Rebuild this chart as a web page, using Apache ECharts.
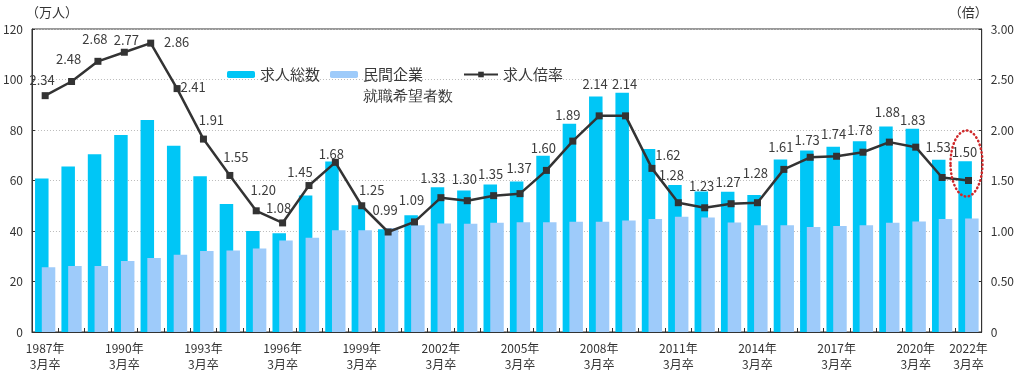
<!DOCTYPE html>
<html>
<head>
<meta charset="utf-8">
<script src="https://cdn.jsdelivr.net/npm/echarts@6/dist/echarts.min.js"></script>
<style>
    html, body { margin: 0; padding: 0; background: #fff; }
    #chart { width: 1017px; height: 376px; }
</style>
</head>
<body>
<div id="chart"></div>
<script>
    // 年度（3月卒）
    var years = ['1987', '1988', '1989', '1990', '1991', '1992', '1993', '1994', '1995', '1996',
        '1997', '1998', '1999', '2000', '2001', '2002', '2003', '2004', '2005', '2006',
        '2007', '2008', '2009', '2010', '2011', '2012', '2013', '2014', '2015', '2016',
        '2017', '2018', '2019', '2020', '2021', '2022']
    // 求人総数（万人）
    var jobs = [60.8, 65.5, 70.4, 78.0, 84.0, 73.8, 61.7, 50.7, 40.0, 39.1,
        54.1, 67.5, 50.2, 40.7, 46.2, 57.3, 56.0, 58.4, 59.6, 69.8,
        82.5, 93.3, 94.8, 72.5, 58.2, 55.6, 55.5, 54.3, 68.3, 71.9,
        73.4, 75.5, 81.4, 80.5, 68.2, 67.6]
    // 民間企業就職希望者数（万人）
    var seekers = [25.6, 26.1, 26.1, 28.1, 29.3, 30.6, 32.1, 32.3, 33.1, 36.2,
        37.3, 40.3, 40.3, 41.2, 42.3, 43.0, 42.9, 43.3, 43.5, 43.5,
        43.7, 43.7, 44.2, 44.8, 45.6, 45.3, 43.4, 42.3, 42.3, 41.6,
        42.0, 42.3, 43.3, 43.8, 44.8, 45.0]
    // 求人倍率（倍）
    var ratio = [2.34, 2.48, 2.68, 2.77, 2.86, 2.41, 1.91, 1.55, 1.20, 1.08,
        1.45, 1.68, 1.25, 0.99, 1.09, 1.33, 1.30, 1.35, 1.37, 1.60,
        1.89, 2.14, 2.14, 1.62, 1.28, 1.23, 1.27, 1.28, 1.61, 1.73,
        1.74, 1.78, 1.88, 1.83, 1.53, 1.50]
    // 目盛り
    var leftTicks = [0, 20, 40, 60, 80, 100, 120]
    var rightTicks = [0, 0.5, 1, 1.5, 2, 2.5, 3]

    // ラベル位置の微調整（点からの中心位置 dx, dy）
    var labelDefault = [-3, -22]
    var labelTweak = {
        0: [-3, -16], 3: [2, -12], 4: [26, -1], 5: [16, -2], 6: [8, -19], 7: [6, -18],
        8: [7, -21], 9: [-4, -15], 10: [-9, -13], 11: [-4, -8], 12: [10, -16],
        15: [-8, -20], 18: [-1, -26], 20: [-5, -26], 21: [-4, -32], 22: [-1, -32],
        23: [16, -13], 24: [-7, -28], 27: [-2, -30], 29: [-3, -17], 32: [-2, -30],
        33: [-3, -27], 34: [-4, -30], 35: [-4, -28]
    }

    var FONT = '"Noto Sans CJK JP", "Noto Sans", sans-serif'
    var SYM = 7

    var ratioData = ratio.map(function (v, i) {
        var d = labelTweak[i] || labelDefault
        return {
            value: v,
            label: { position: [SYM / 2 + d[0], SYM / 2 + d[1]] }
        }
    })

    var myChart = echarts.init(document.getElementById('chart'))
    var option = {
        animation: false,
        textStyle: { fontFamily: FONT },
        grid: {
            left: 30, right: 35, top: 29, bottom: 44,
            show: true, borderColor: '#333', borderWidth: 1
        },
        legend: [
            {
                data: ['求人総数'], left: 227, top: 67, padding: 0,
                itemWidth: 28, itemHeight: 7,
                textStyle: { fontSize: 15, color: '#3a3a3a', fontFamily: FONT }
            },
            {
                data: ['民間企業就職希望者数'], left: 330, top: 67, padding: 0,
                itemWidth: 28, itemHeight: 7,
                formatter: function () { return '民間企業' },
                textStyle: { fontSize: 15, color: '#3a3a3a', fontFamily: FONT }
            },
            {
                data: ['求人倍率'], left: 463, top: 67, padding: 0,
                itemWidth: 34, itemHeight: 7,
                textStyle: { fontSize: 15, color: '#3a3a3a', fontFamily: FONT }
            }
        ],
        xAxis: {
            type: 'category',
            data: years,
            boundaryGap: true,
            axisLine: { lineStyle: { color: '#333', width: 1 } },
            axisTick: { show: true, inside: true, interval: 0, length: 4, lineStyle: { color: '#333' } },
            axisLabel: {
                interval: function (i) { return i % 3 === 0 || i === years.length - 1 },
                formatter: function (v) { return v + '年\n3月卒' },
                fontSize: 12, lineHeight: 16, color: '#333', margin: 8
            }
        },
        yAxis: [
            {
                type: 'value', min: leftTicks[0], max: leftTicks[leftTicks.length - 1],
                interval: leftTicks[1] - leftTicks[0],
                name: '（万人）', nameLocation: 'end', nameGap: 10,
                nameTextStyle: { fontSize: 13, color: '#333', align: 'left', padding: [0, 0, 0, -6] },
                axisLine: { show: true, lineStyle: { color: '#333' } },
                axisTick: { show: true, inside: true, length: 3, lineStyle: { color: '#333' } },
                axisLabel: { fontSize: 12, color: '#333', margin: 9 },
                splitLine: { show: true, lineStyle: { color: '#bbb', type: [1, 2] } }
            },
            {
                type: 'value', min: rightTicks[0], max: rightTicks[rightTicks.length - 1],
                interval: rightTicks[1] - rightTicks[0],
                name: '（倍）', nameLocation: 'end', nameGap: 10,
                nameTextStyle: { fontSize: 13, color: '#333', align: 'right', padding: [0, -6, 0, 0] },
                axisLine: { show: true, lineStyle: { color: '#333' } },
                axisTick: { show: true, inside: true, length: 3, lineStyle: { color: '#333' } },
                axisLabel: {
                    fontSize: 12, color: '#333', margin: 9,
                    formatter: function (v) { return v === 0 ? '0' : v.toFixed(2) }
                },
                splitLine: { show: false }
            }
        ],
        series: [
            {
                name: '求人総数', type: 'bar', yAxisIndex: 0,
                data: jobs, barWidth: 13.5, barGap: '-50%',
                itemStyle: { color: '#00c6f6' }
            },
            {
                name: '民間企業就職希望者数', type: 'bar', yAxisIndex: 0,
                data: seekers, barWidth: 13.5, barGap: '-50%',
                itemStyle: { color: '#9ecbfa' }
            },
            {
                name: '求人倍率', type: 'line', yAxisIndex: 1,
                data: ratioData, symbol: 'rect', symbolSize: SYM,
                lineStyle: { color: '#333', width: 2.5 },
                itemStyle: { color: '#333' },
                label: {
                    show: true, align: 'center', verticalAlign: 'middle',
                    fontSize: 13, color: '#3c3c3c', fontFamily: FONT,
                    formatter: function (p) { return p.value.toFixed(2) }
                },
                z: 5
            }
        ]
    }
    myChart.setOption(option)

    // 凡例2行目と2022年の強調（赤点線の楕円）
    var last = ratio.length - 1
    var pt = myChart.convertToPixel({ xAxisIndex: 0, yAxisIndex: 1 }, [last, ratio[last]])
    myChart.setOption({
        graphic: [
            {
                type: 'text', left: 363, top: 89,
                style: { text: '就職希望者数', fontSize: 15, fill: '#3a3a3a', font: '15px ' + FONT }
            },
            {
                type: 'ellipse',
                shape: { cx: pt[0] - 2, cy: pt[1] - 17, rx: 16, ry: 33 },
                style: { fill: 'none', stroke: '#d0282a', lineWidth: 2.5, lineDash: [0.5, 3.5], lineCap: 'round' },
                z: 10
            }
        ]
    })
    window.onresize = myChart.resize
</script>
</body>
</html>
